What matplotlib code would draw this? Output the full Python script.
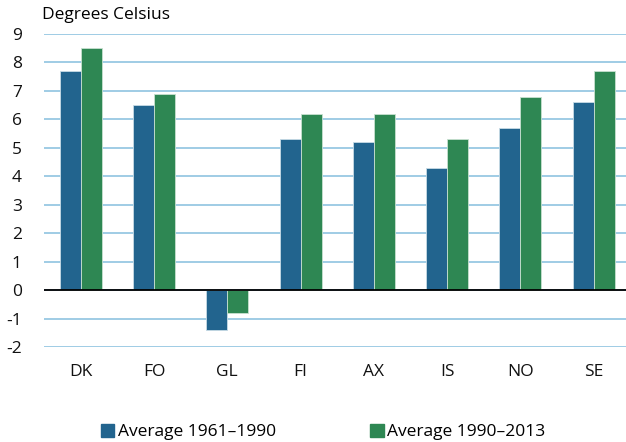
import numpy as np
import matplotlib
matplotlib.use('Agg')
import matplotlib.pyplot as plt
from matplotlib.patches import Patch

plt.rcParams['font.family'] = ['Open Sans', 'DejaVu Sans']

countries = ['DK', 'FO', 'GL', 'FI', 'AX', 'IS', 'NO', 'SE']
avg_1961_1990 = [7.7, 6.5, -1.4, 5.3, 5.2, 4.3, 5.7, 6.6]
avg_1990_2013 = [8.5, 6.9, -0.8, 6.2, 6.2, 5.3, 6.8, 7.7]
series_labels = ['Average 1961\u20131990', 'Average 1990\u20132013']
yticks = list(range(-2, 10))

BLUE = '#22648e'
GREEN = '#2e8753'
GRID = '#8fc3e0'

fig = plt.figure(figsize=(6.26, 4.42), dpi=100)
ax = fig.add_axes([44 / 626, 1 - 347 / 442, 582 / 626, 313 / 442])

x = np.arange(len(countries))
w = 0.287
ax.bar(x - w / 2, avg_1961_1990, w, color=BLUE, edgecolor='#c8dbe6', linewidth=0.6, zorder=3)
ax.bar(x + w / 2, avg_1990_2013, w, color=GREEN, edgecolor='#c8e0d0', linewidth=0.6, zorder=3)

ax.set_ylim(-2, 9)
ax.set_xlim(-0.5, 7.44)
ax.set_yticks(yticks)
ax.set_yticklabels([str(v) for v in yticks], fontsize=12.5)
ax.set_xticks(x)
ax.set_xticklabels(countries, fontsize=12.5)
ax.tick_params(axis='both', length=0, colors='#111111')
ax.tick_params(axis='y', pad=16)
ax.tick_params(axis='x', pad=12)
for t in ax.get_yticklabels():
    t.set_horizontalalignment('right')

ax.yaxis.grid(True, color=GRID, linewidth=1.2, zorder=0)
ax.axhline(0, color='black', linewidth=1.3, zorder=4)
for s in ax.spines.values():
    s.set_visible(False)

fig.text(42 / 626, 1 - 15 / 442, 'Degrees Celsius', fontsize=12.5, va='center', ha='left')

handles = [Patch(color=BLUE), Patch(color=GREEN)]
fig.legend(handles, series_labels, loc='center', bbox_to_anchor=(323 / 626, 1 - 432 / 442),
           ncol=2, frameon=False, fontsize=12.5, handlelength=0.8, handleheight=0.8,
           handletextpad=0.2, columnspacing=5.4, borderpad=0, borderaxespad=0)

fig.savefig('out.png', dpi=100)
